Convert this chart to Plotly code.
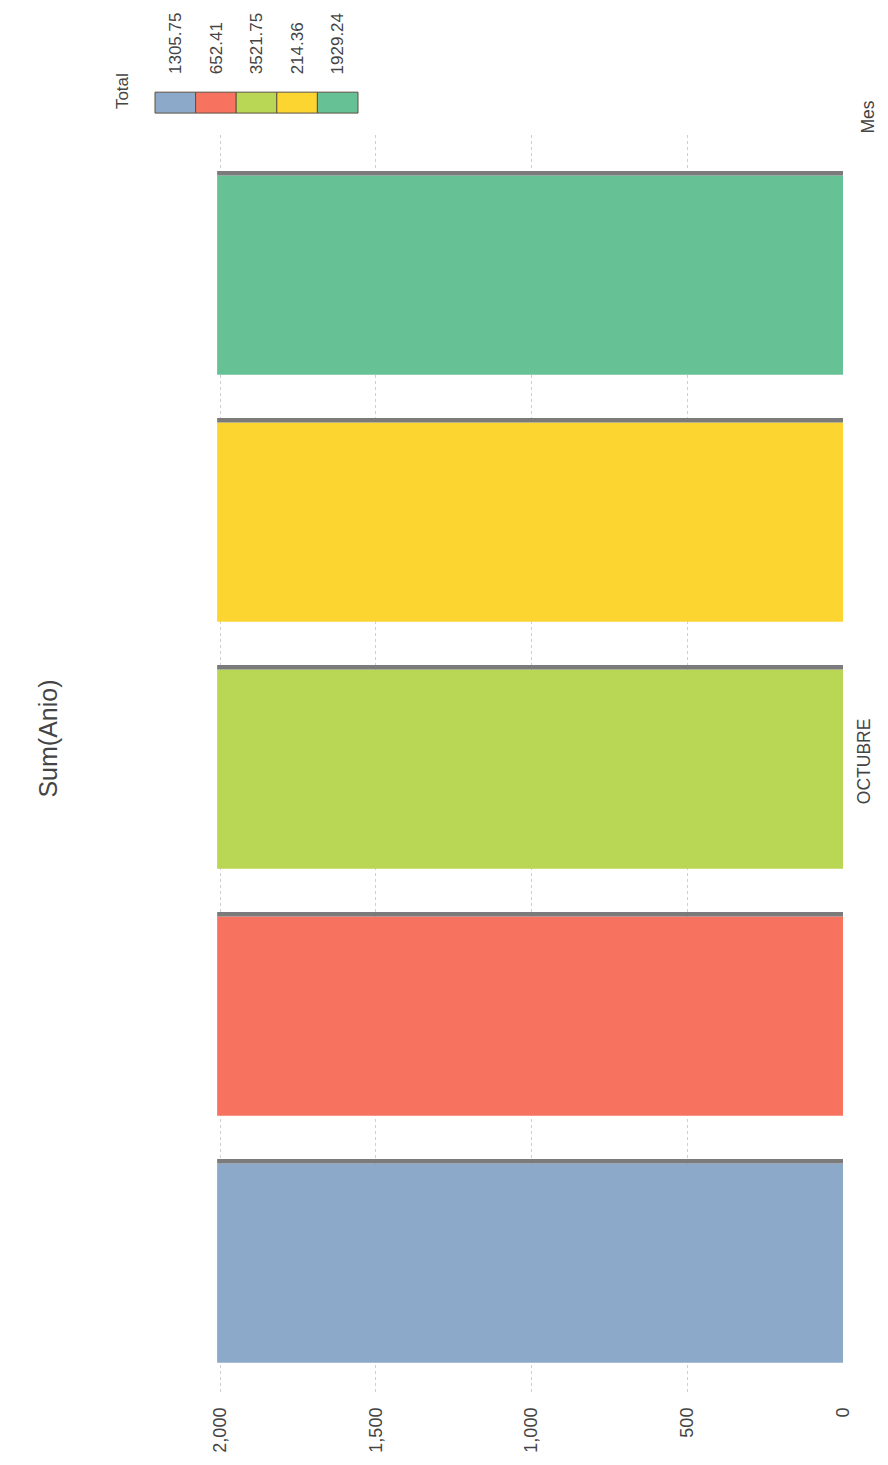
import plotly.graph_objects as go

# ---- data ----
categories = ["OCTUBRE"]
totals = ["1305.75", "652.41", "3521.75", "214.36", "1929.24"]
values = [2010, 2010, 2010, 2010, 2010]
colors = ["#8DA9C9", "#F8735F", "#B9D654", "#FDD530", "#66C195"]
x_ticks = [0, 500, 1000, 1500, 2000]

# ---- layout constants (reference pixels; page body has an 8px margin) ----
OX, OY = 8, 8
W, H = 888 - OX, 1465 - OY
L, R, T, B = 205 - OX, 843 - OX, 135 - OY, 1398 - OY
FONT = "Liberation Sans, Arial, sans-serif"
TXT = "#444444"

def px_x(px):
    return (px - OX - L) / (R - L)

def px_y(py):
    return (B - (py - OY)) / (B - T)

slot = 248 / (B - T)
bar_w = 200 / (B - T)
grey_w = 4.5 / (B - T)
first_off = -0.476

fig = go.Figure()
for i, (name, v, c) in enumerate(zip(totals, values, colors)):
    off = first_off + i * slot
    fig.add_trace(go.Bar(
        y=categories, x=[v], orientation="h", name=name,
        marker=dict(color=c, line=dict(width=0)),
        offset=off, width=bar_w, showlegend=False,
    ))
    fig.add_trace(go.Bar(
        y=categories, x=[v], orientation="h", name=name,
        marker=dict(color="#7b7b7b", line=dict(width=0)),
        offset=off + bar_w, width=grey_w, showlegend=False, hoverinfo="skip",
    ))

fig.update_layout(
    width=W, height=H,
    margin=dict(l=L, r=W - R, t=T, b=H - B),
    barmode="overlay",
    paper_bgcolor="white", plot_bgcolor="white",
    font=dict(family=FONT, size=18, color=TXT),
    showlegend=False,
)
fig.update_xaxes(
    range=[2049, 0], tickvals=x_ticks, tickformat=",d", tickangle=-90,
    showgrid=True, gridcolor="#cfcfcf", griddash="dot", gridwidth=1,
    zeroline=False, showline=False, ticks="", ticklabelstandoff=10,
    tickfont=dict(family=FONT, size=18, color=TXT),
)
fig.update_yaxes(
    range=[-0.5, 0.5], side="right", tickangle=-90, showgrid=False,
    zeroline=False, showline=False, ticks="", ticklabelstandoff=8,
    tickfont=dict(family=FONT, size=17.5, color=TXT),
)

# axis titles as rotated text
fig.add_annotation(text="Sum(Anio)", xref="paper", yref="paper",
                   x=px_x(48), y=px_y(741), showarrow=False, textangle=-90,
                   xanchor="center", yanchor="middle",
                   font=dict(family=FONT, size=25, color=TXT))
fig.add_annotation(text="Mes", xref="paper", yref="paper",
                   x=px_x(868), y=px_y(136), showarrow=False, textangle=-90,
                   xanchor="center", yanchor="bottom",
                   font=dict(family=FONT, size=17.5, color=TXT))

# legend drawn rotated
fig.add_annotation(text="Total", xref="paper", yref="paper",
                   x=px_x(122), y=px_y(111), showarrow=False, textangle=-90,
                   xanchor="center", yanchor="bottom",
                   font=dict(family=FONT, size=17, color=TXT))
sw_left, sw_w = 155, 40.6
for i, (name, c) in enumerate(zip(totals, colors)):
    x0 = sw_left + i * sw_w
    fig.add_shape(type="rect", xref="paper", yref="paper",
                  x0=px_x(x0), x1=px_x(x0 + sw_w), y0=px_y(113), y1=px_y(92),
                  fillcolor=c, line=dict(color="#5a5040", width=1))
    fig.add_annotation(text=name, xref="paper", yref="paper",
                       x=px_x(x0 + sw_w / 2), y=px_y(76), showarrow=False,
                       textangle=-90, xanchor="center", yanchor="bottom",
                       font=dict(family=FONT, size=17, color=TXT))

fig.write_html("out.html")
